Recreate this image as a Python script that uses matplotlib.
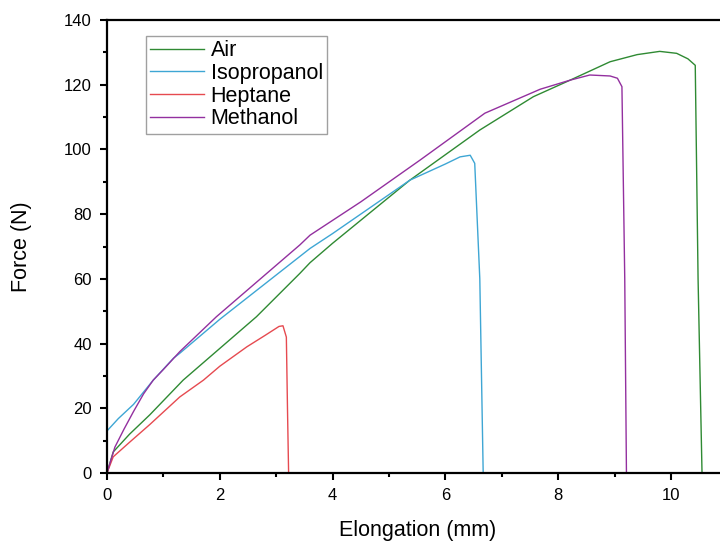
import matplotlib
matplotlib.use('Agg')
from matplotlib import pyplot as plt
from matplotlib.ticker import MultipleLocator

plt.rcParams['font.family'] = ['Liberation Sans', 'DejaVu Sans']

# Air
air_x = [0, 0.11, 0.4, 0.76, 1.35, 2.0, 2.65, 3.42, 3.6, 4.0, 5.37, 6.61,
         7.56, 8.21, 8.92, 9.4, 9.8, 10.1, 10.3, 10.43, 10.48, 10.55]
air_y = [0, 6.5, 12, 18, 28.7, 38.5, 48.3, 61.7, 65, 71, 90.5, 106,
         116.3, 121.4, 127.1, 129.3, 130.3, 129.7, 128, 126, 60, 0]

# Isopropanol
iso_x = [0, 0.2, 0.47, 0.82, 1.18, 1.29, 2.0, 3.6, 4.0, 5.37, 6.0, 6.26, 6.44,
         6.52, 6.61, 6.67]
iso_y = [13, 16.8, 21.2, 28.7, 35.5, 37, 47.5, 69.4, 74, 90.5, 95.5, 97.7, 98.2,
         95.7, 60, 0]

# Heptane
hep_x = [0, 0.11, 0.4, 0.76, 1.29, 1.71, 2.0, 2.48, 2.8, 3.05, 3.12,
         3.18, 3.2, 3.22]
hep_y = [0, 5, 9.5, 15, 23.5, 28.7, 33, 39, 42.5, 45.3, 45.5, 42, 20, 0]

# Methanol
met_x = [0, 0.14, 0.3, 0.47, 0.65, 0.82, 1.0, 1.29, 1.94, 2.5, 3.42, 3.6, 4.5,
         5.55, 6.7, 7.68, 8.21, 8.56, 8.92, 9.05, 9.13, 9.18, 9.21]
met_y = [0, 8, 13.5, 19, 24.5, 28.7, 32, 37.5, 48.3, 56.7, 70.5, 73.5, 83.8,
         96.7, 111.2, 118.6, 121.4, 123, 122.7, 122, 119.4, 60, 0]

fig = plt.figure(figsize=(7.2, 5.42), dpi=100)
# axes run past the right edge, like the cropped original
ax = fig.add_axes([107 / 720, 69 / 542, 11 * 56.4 / 720, 453 / 542])

lw = 1.0
ax.plot(air_x, air_y, color='#2f8a33', lw=lw, label='Air')
ax.plot(iso_x, iso_y, color='#3ea6d4', lw=lw, label='Isopropanol')
ax.plot(hep_x, hep_y, color='#e64a50', lw=lw, label='Heptane')
ax.plot(met_x, met_y, color='#93309f', lw=lw, label='Methanol')

ax.set_xlim(0, 11)
ax.set_ylim(0, 140)
ax.xaxis.set_major_locator(MultipleLocator(2))
ax.xaxis.set_minor_locator(MultipleLocator(1))
ax.yaxis.set_major_locator(MultipleLocator(20))
ax.yaxis.set_minor_locator(MultipleLocator(10))
ax.tick_params(which='both', direction='out', width=1.5, labelsize=12,
               top=False, right=False)
ax.tick_params(which='major', length=5, pad=6)
ax.tick_params(which='minor', length=3)
for side in ['left', 'bottom', 'top']:
    ax.spines[side].set_linewidth(1.6)
ax.spines['right'].set_visible(False)

ax.set_xlabel('Elongation (mm)', fontsize=15.5, labelpad=12)
ax.set_ylabel('Force (N)', fontsize=15.5, labelpad=23)

leg = ax.legend(loc='upper left', bbox_to_anchor=(0.063, 0.965), fontsize=15.5,
                frameon=True, fancybox=False, labelspacing=0.08,
                handlelength=2.5, handletextpad=0.3, borderpad=0.2,
                borderaxespad=0)
leg.get_frame().set_edgecolor('#888888')
leg.get_frame().set_linewidth(1.0)

fig.savefig('out.png', dpi=100)
